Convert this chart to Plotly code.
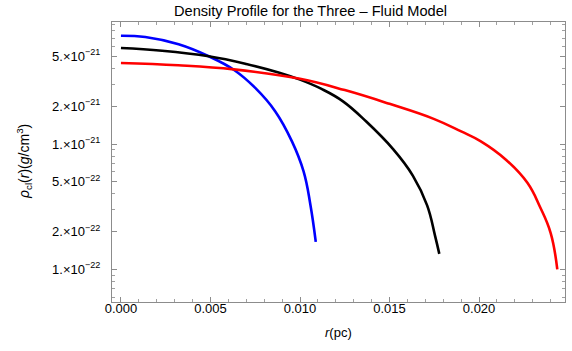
import plotly.graph_objects as go

# Blue curve
blue_r = [0.0, 0.00136, 0.00322, 0.0049, 0.0063, 0.0075, 0.00862, 0.00955, 0.0102, 0.01058, 0.01088]
blue_rho = [7.31e-21, 7.13e-21, 6.24e-21, 5.01e-21, 3.91e-21, 2.80e-21, 1.82e-21, 1.05e-21, 6.05e-22, 3.28e-22, 1.66e-22]

# Black curve
black_r = [0.0, 0.0023, 0.0049, 0.0070, 0.0088, 0.0100, 0.0112, 0.0124, 0.0137, 0.0152, 0.0163, 0.0171, 0.01754, 0.01778]
black_rho = [5.83e-21, 5.55e-21, 5.01e-21, 4.35e-21, 3.72e-21, 3.26e-21, 2.75e-21, 2.19e-21, 1.51e-21, 9.1e-22, 5.6e-22, 3.24e-22, 1.86e-22, 1.33e-22]

# Red curve
red_r = [0.0, 0.0032, 0.0063, 0.0100, 0.0125, 0.0150, 0.0175, 0.0190, 0.0201, 0.0215, 0.0227, 0.0234, 0.0240, 0.02437]
red_rho = [4.43e-21, 4.25e-21, 3.94e-21, 3.31e-21, 2.69e-21, 2.09e-21, 1.58e-21, 1.26e-21, 1.05e-21, 7.5e-22, 4.9e-22, 3.16e-22, 1.95e-22, 1.0e-22]

x_ticks = [0.0, 0.005, 0.010, 0.015, 0.020]
x_tick_labels = ["0.000", "0.005", "0.010", "0.015", "0.020"]
y_ticks = [1e-22, 2e-22, 5e-22, 1e-21, 2e-21, 5e-21]
y_tick_labels = ["1.×10<sup>−22</sup>", "2.×10<sup>−22</sup>", "5.×10<sup>−22</sup>",
                 "1.×10<sup>−21</sup>", "2.×10<sup>−21</sup>", "5.×10<sup>−21</sup>"]

x_minor = [i * 0.001 for i in range(0, 25)]
y_minor = [m * 10.0 ** e for e in (-23, -22, -21) for m in range(1, 10)]

FONT = "Liberation Sans, Arial, sans-serif"
W, H = 572, 351
L, R, T, B = 112, 565, 22, 302
PW, PH = R - L, B - T

fig = go.Figure()
for xs, ys, col in [(blue_r, blue_rho, "#0000ff"), (black_r, black_rho, "#000000"), (red_r, red_rho, "#ff0000")]:
    fig.add_trace(go.Scatter(x=xs, y=ys, mode="lines", line=dict(color=col, width=2.6, shape="spline", smoothing=1.2),
                             showlegend=False, hoverinfo="skip"))

axis_common = dict(showgrid=False, zeroline=False, showline=True, linecolor="#8c8c8c", linewidth=1,
                   mirror="allticks", ticks="inside", ticklen=5, tickcolor="#8c8c8c", tickwidth=1,
                   tickfont=dict(family=FONT, size=13, color="#000000"), automargin=False)

fig.update_layout(
    width=W, height=H,
    margin=dict(l=L, r=W - R, t=T, b=H - B),
    paper_bgcolor="white", plot_bgcolor="white",
    xaxis=dict(range=[-0.0005, 0.0248], tickmode="array", tickvals=x_ticks, ticktext=x_tick_labels,
               minor=dict(tickmode="array", tickvals=x_minor, ticks="inside", ticklen=3, tickcolor="#a0a0a0"),
               ticklabelstandoff=-6,
               **axis_common),
    yaxis=dict(type="log", range=[-22.26, -20.027], tickmode="array", tickvals=y_ticks, ticktext=y_tick_labels,
               minor=dict(tickmode="array", tickvals=y_minor, ticks="inside", ticklen=3, tickcolor="#a0a0a0"),
               ticklabelstandoff=8,
               **axis_common),
)

# Title
fig.add_annotation(text="Density Profile for the Three – Fluid Model", xref="paper", yref="paper",
                   x=(310 - L) / PW, y=1 + (T - 11) / PH, xanchor="center", yanchor="middle",
                   showarrow=False, font=dict(family=FONT, size=14.6, color="#000000"))
# X axis title
fig.add_annotation(text="<i>r</i>(pc)", xref="paper", yref="paper",
                   x=(338 - L) / PW, y=-(332 - B) / PH, xanchor="center", yanchor="middle",
                   showarrow=False, font=dict(family=FONT, size=13, color="#000000"))
# Y axis title
fig.add_annotation(text="<i>ρ</i><sub>cl</sub>(<i>r</i>)(<i>g</i>/cm<sup>3</sup>)", xref="paper", yref="paper",
                   x=-(L - 24) / PW, y=(B - 162) / PH, xanchor="center", yanchor="middle",
                   textangle=-90, showarrow=False,
                   font=dict(family=FONT, size=14, color="#000000"))

fig.write_html("out.html", config={"displayModeBar": False},
               post_script="document.body.style.margin='0';document.body.style.overflow='hidden';")
